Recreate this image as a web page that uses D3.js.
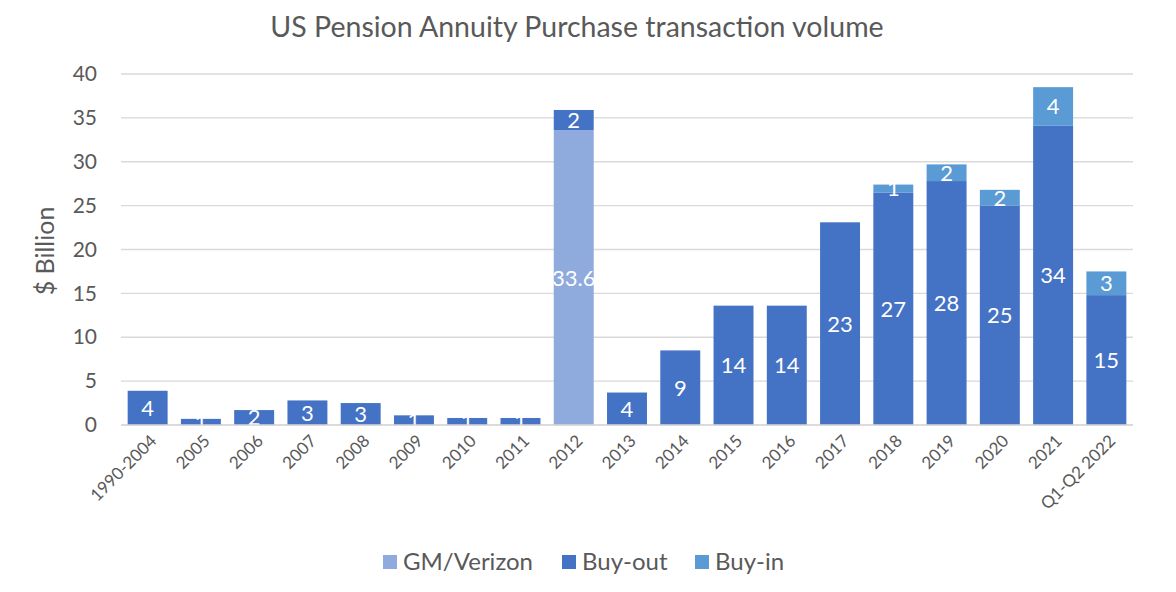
<!DOCTYPE html>
<html>
<head>
<meta charset="utf-8">
<script src="https://cdn.jsdelivr.net/npm/d3@7"></script>
<style>
  body { margin: 0; background: #fff; }
  text { font-family: Lato, "Open Sans", sans-serif; }
</style>
</head>
<body>
<script>
// chart data
var categories = ['1990-2004','2005','2006','2007','2008','2009','2010','2011','2012','2013',
                  '2014','2015','2016','2017','2018','2019','2020','2021','Q1-Q2 2022'];
var gmVerizon = [0,0,0,0,0,0,0,0,33.6,0,0,0,0,0,0,0,0,0,0];
var buyOut    = [3.9,0.7,1.7,2.8,2.5,1.1,0.8,0.8,2.3,3.7,8.5,13.6,13.6,23.1,26.5,27.8,25.0,34.1,14.8];
var buyIn     = [0,0,0,0,0,0,0,0,0,0,0,0,0,0,0.9,1.9,1.8,4.4,2.7];
var seriesNames = ['GM/Verizon','Buy-out','Buy-in'];
var yTicks = [0,5,10,15,20,25,30,35,40];

var colors = {'GM/Verizon':'#8faadc','Buy-out':'#4472c4','Buy-in':'#5b9bd5'};

var rows = categories.map(function(c,i){
  return {cat:c,'GM/Verizon':gmVerizon[i],'Buy-out':buyOut[i],'Buy-in':buyIn[i]};
});

var W = 1176, H = 592;
var svg = d3.select('body').append('svg')
  .attr('width',W).attr('height',H);

var x = d3.scaleBand().domain(categories).range([121,1133]).paddingInner(0.25).paddingOuter(0.125);
var y = d3.scaleLinear().domain([0,40]).range([425,74]);

// gridlines
svg.append('g').selectAll('line')
  .data(yTicks).enter().append('line')
  .attr('x1',121).attr('x2',1133)
  .attr('y1',function(d){ return y(d); })
  .attr('y2',function(d){ return y(d); })
  .attr('stroke','#d9d9d9').attr('stroke-width',1.3);

// y axis labels
var yAxis = svg.append('g')
  .attr('transform','translate(121,0)')
  .call(d3.axisLeft(y).tickValues(yTicks).tickSize(0).tickPadding(24));
yAxis.select('.domain').remove();
yAxis.selectAll('text').attr('font-size',21).attr('fill','#595959')
  .style('font-family','Lato, sans-serif');

// x axis labels
var xAxis = svg.append('g')
  .attr('transform','translate(0,425)')
  .call(d3.axisBottom(x).tickSize(0).tickPadding(0));
xAxis.select('.domain').remove();
xAxis.selectAll('text')
  .attr('font-size',17).attr('fill','#595959')
  .style('font-family','Lato, sans-serif')
  .attr('text-anchor','end')
  .attr('dy',0)
  .attr('transform','translate(10,17) rotate(-45)');

var stack = d3.stack().keys(seriesNames);
var layers = stack(rows);

var groups = svg.append('g').selectAll('g')
  .data(layers).enter().append('g')
  .attr('fill',function(d){ return colors[d.key]; });

groups.selectAll('rect')
  .data(function(d){ return d.map(function(p){ p.key = d.key; return p; }); })
  .enter().append('rect')
  .attr('x',function(d){ return x(d.data.cat); })
  .attr('width',x.bandwidth())
  .attr('y',function(d){ return y(d[1]); })
  .attr('height',function(d){ return y(d[0]) - y(d[1]); });

// data labels
var labelData = [];
layers.forEach(function(l){
  l.forEach(function(p){
    var v = p.data[l.key];
    if (v > 0) labelData.push({cat:p.data.cat, key:l.key, v:v, mid:(p[0]+p[1])/2});
  });
});

svg.append('g').selectAll('text')
  .data(labelData).enter().append('text')
  .attr('x',function(d){ return x(d.cat) + x.bandwidth()/2; })
  .attr('y',function(d){ return y(d.mid); })
  .attr('dy','0.36em')
  .attr('text-anchor','middle')
  .attr('font-size',22)
  .attr('fill','#ffffff')
  .text(function(d){ return d.key == 'GM/Verizon' ? d3.format('.1f')(d.v) : Math.round(d.v); });

// axis baseline
svg.append('line').attr('x1',121).attr('x2',1133).attr('y1',425).attr('y2',425)
  .attr('stroke','#d9d9d9').attr('stroke-width',1.3);

// title
svg.append('text').attr('x',577).attr('y',37)
  .attr('text-anchor','middle').attr('font-size',28.5).attr('fill','#595959')
  .text('US Pension Annuity Purchase transaction volume');

// y title
svg.append('text')
  .attr('transform','translate(54,251) rotate(-90)')
  .attr('text-anchor','middle').attr('font-size',25).attr('fill','#595959')
  .text('$ Billion');

// legend
var legendX = [383,562,695];
var legend = svg.append('g').selectAll('g')
  .data(seriesNames).enter().append('g')
  .attr('transform',function(d,i){ return 'translate(' + legendX[i] + ',562)'; });
legend.append('rect').attr('x',0).attr('y',-7).attr('width',14).attr('height',14)
  .attr('fill',function(d){ return colors[d]; });
legend.append('text').attr('x',20).attr('dy','0.35em')
  .attr('font-size',24).attr('fill','#595959')
  .text(function(d){ return d; });
</script>
</body>
</html>
